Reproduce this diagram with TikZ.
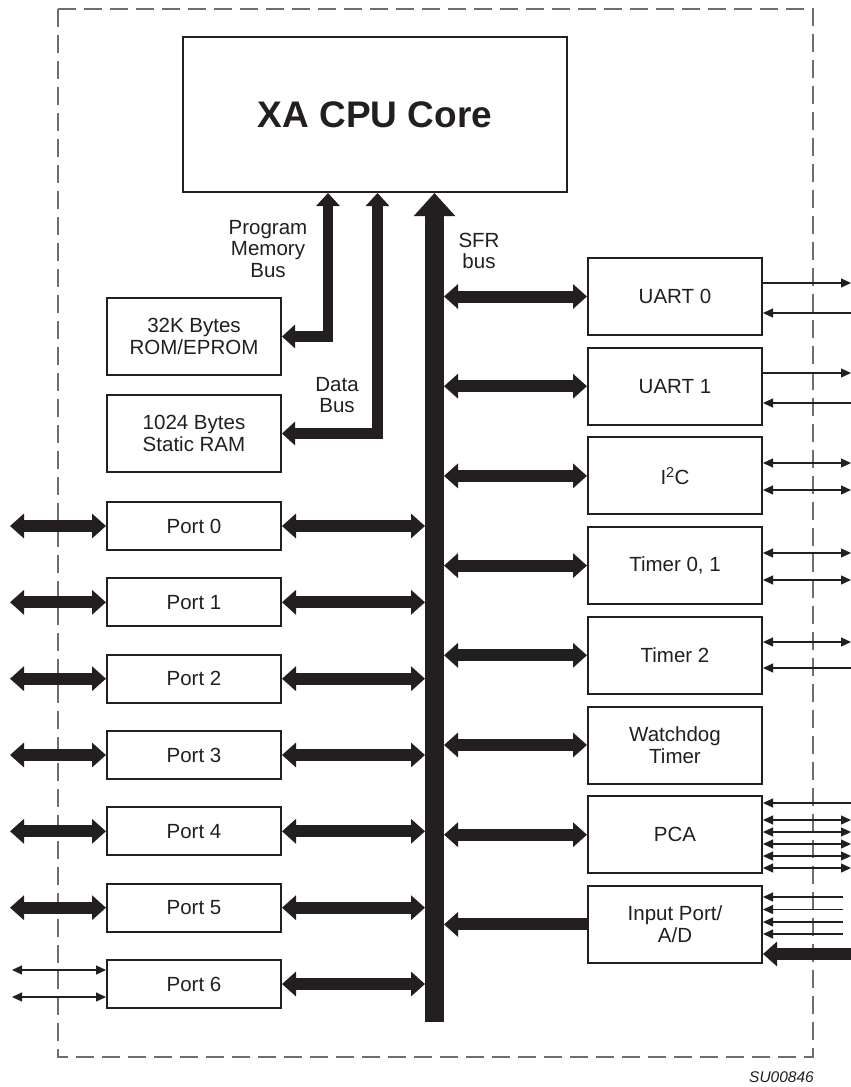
\documentclass[tikz,border=0pt]{standalone}
\usepackage{fontspec}
\setmainfont{Liberation Sans}
\usetikzlibrary{arrows.meta,calc}
\definecolor{ink}{HTML}{231F20}
\definecolor{framec}{HTML}{6D6E70}
\begin{document}
\begin{tikzpicture}[x=1pt,y=-1pt,
  blk/.style={draw=ink, line width=2pt, minimum width=174pt, minimum height=77pt,
    inner sep=0pt, align=center, text=ink, font=\fontsize{20.5}{22}\selectfont},
  portbox/.style={blk, minimum height=48pt},
  lbl/.style={align=center, text=ink, inner sep=0pt, font=\fontsize{20.5}{21.5}\selectfont},
  fat/.style={draw=ink, line width=12pt, {Triangle[width=24pt,length=14pt]}-{Triangle[width=24pt,length=14pt]}},
  fatin/.style={draw=ink, line width=12pt, -{Triangle[width=24pt,length=14pt]}},
  membus/.style={draw=ink, line width=10.5pt, miter limit=10, {Triangle[width=23pt,length=13pt]}-{Triangle[width=23pt,length=13pt]}},
  thinio/.style={draw=ink, line width=1.2pt, {Triangle[width=9pt,length=10pt]}-{Triangle[width=9pt,length=10pt]}},
  thinin/.style={draw=ink, line width=1.2pt, {Triangle[width=9pt,length=10pt]}-},
  thinout/.style={draw=ink, line width=1.2pt, -{Triangle[width=9pt,length=10pt]}},
  dashframe/.style={draw=framec, line width=1.3pt, dash pattern=on 18pt off 8pt}
]
\useasboundingbox (0,0) rectangle (851,1087);
\fill[white] (0,0) rectangle (851,1087);

% dashed frame
\draw[dashframe] (58,9) -- (813,9) -- (813,1057) -- (58,1057) -- cycle;

% CPU core
\node[draw=ink, line width=2pt, minimum width=384pt, minimum height=155pt, inner sep=0pt,
  font=\fontsize{37}{40}\selectfont\bfseries, text=ink] (cpu) at (375,114.5) {XA CPU Core};

% memory blocks
\node[blk] (rom) at (194,336.5) {32K Bytes\\ROM/EPROM};
\node[blk] (ram) at (194,433.5) {1024 Bytes\\Static RAM};

% ports
\foreach \i/\y in {0/526,1/602.3,2/678.7,3/755,4/831.3,5/907.7,6/984}
  \node[portbox] (p\i) at (194,\y) {Port \i};

% right blocks
\node[blk] (u0) at (675,296.5) {UART 0};
\node[blk] (u1) at (675,386.2) {UART 1};
\node[blk] (i2c) at (675,475.9) {I\textsuperscript{2}C};
\node[blk] (t01) at (675,565.6) {Timer 0, 1};
\node[blk] (t2) at (675,655.3) {Timer 2};
\node[blk] (wd) at (675,745) {Watchdog\\Timer};
\node[blk] (pca) at (675,834.7) {PCA};
\node[blk] (ip) at (675,924.4) {Input Port/\\A/D};

% SFR bus
\coordinate (sfrbot) at (434.5,1022);
\coordinate (busL) at (425,1022);
\coordinate (busR) at (444,1022);
\coordinate (edgeR) at (851,0);
\coordinate (edgeL) at (10,0);
\coordinate (edgeL6) at (12,0);
\coordinate (ipstart) at (843,0);
\draw[ink, line width=19pt, -{Triangle[width=40pt,length=23pt]}] (sfrbot) -- (sfrbot |- cpu.south);

% memory buses
\coordinate (pmb) at (328,0);
\coordinate (db) at (377.5,0);
\draw[membus] (rom.east) -| (pmb |- cpu.south);
\draw[membus] (ram.east) -| (db |- cpu.south);

% labels
\node[lbl] (lpm) at (268,249) {Program\\Memory\\Bus};
\node[lbl] (ldb) at (337,395) {Data\\Bus};
\node[lbl] (lsfr) at (479,251) {SFR\\bus};
\node[anchor=base east, inner sep=0pt, text=ink, font=\fontsize{15.5}{17}\selectfont\itshape] (code) at (814,1082) {SU00846};

% port connections
\foreach \i in {0,...,6}
  \draw[fat] (p\i.east) -- (p\i.east -| busL);
\foreach \i in {0,...,5}
  \draw[fat] (p\i.west -| edgeL) -- (p\i.west);
\draw[thinio] ($(p6.west -| edgeL6)+(0,-14)$) -- ($(p6.west)+(0,-14)$);
\draw[thinio] ($(p6.west -| edgeL6)+(0,13)$) -- ($(p6.west)+(0,13)$);

% right block bus connections
\foreach \n in {u0,u1,i2c,t01,t2,wd,pca}
  \draw[fat] (\n.west -| busR) -- (\n.west);
\draw[fatin] (ip.west) -- (ip.west -| busR);

% external signals
\draw[thinout] ($(u0.east)+(0,-13.5)$) -- ($(u0.east -| edgeR)+(0,-13.5)$);
\draw[thinin] ($(u0.east)+(0,16.5)$) -- ($(u0.east -| edgeR)+(0,16.5)$);
\draw[thinout] ($(u1.east)+(0,-13.2)$) -- ($(u1.east -| edgeR)+(0,-13.2)$);
\draw[thinin] ($(u1.east)+(0,16.8)$) -- ($(u1.east -| edgeR)+(0,16.8)$);
\draw[thinio] ($(i2c.east)+(0,-12.9)$) -- ($(i2c.east -| edgeR)+(0,-12.9)$);
\draw[thinio] ($(i2c.east)+(0,14.1)$) -- ($(i2c.east -| edgeR)+(0,14.1)$);
\draw[thinio] ($(t01.east)+(0,-12.6)$) -- ($(t01.east -| edgeR)+(0,-12.6)$);
\draw[thinio] ($(t01.east)+(0,14.4)$) -- ($(t01.east -| edgeR)+(0,14.4)$);
\draw[thinio] ($(t2.east)+(0,-13.3)$) -- ($(t2.east -| edgeR)+(0,-13.3)$);
\draw[thinin] ($(t2.east)+(0,12.7)$) -- ($(t2.east -| edgeR)+(0,12.7)$);
\draw[thinin] ($(pca.east)+(0,-31.7)$) -- ($(pca.east -| edgeR)+(0,-31.7)$);
\foreach \d in {-14.7,-2.7,9.3,21.3,33.3}
  \draw[thinio] ($(pca.east)+(0,\d)$) -- ($(pca.east -| edgeR)+(0,\d)$);
\foreach \d in {-27.4,-14.9,-2.4,9.6}
  \draw[thinin] ($(ip.east)+(0,\d)$) -- ($(ip.east -| ipstart)+(0,\d)$);
\draw[fatin] ($(ip.east -| edgeR)+(0,29.6)$) -- ($(ip.east)+(0,29.6)$);
\end{tikzpicture}
\end{document}
